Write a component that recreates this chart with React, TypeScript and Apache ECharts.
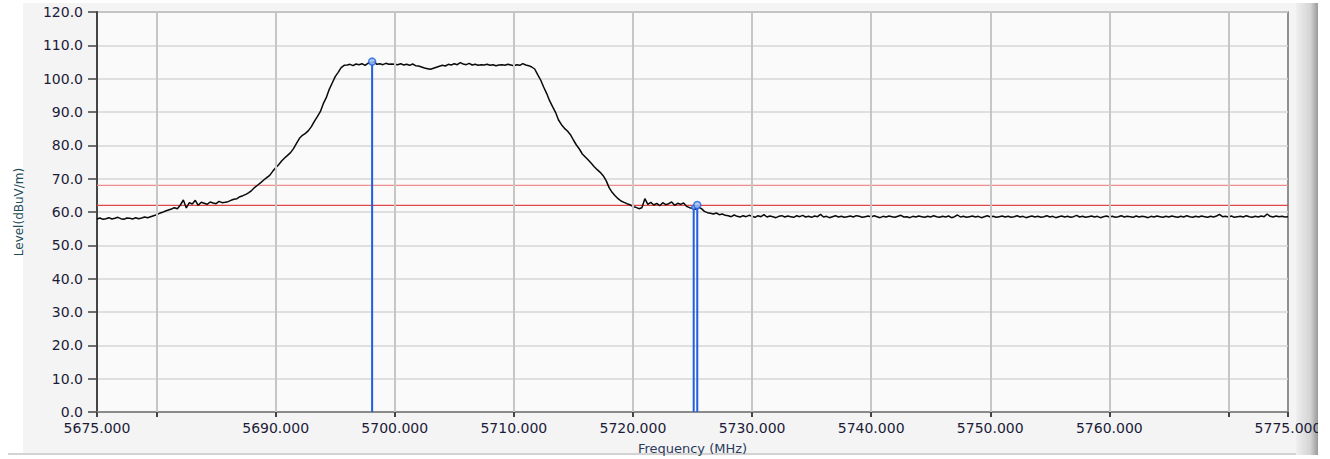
import React, { useEffect, useRef } from "react";
import * as echarts from "echarts";

// ---- data ----
const freqStart = 5675; // MHz, first sample
const freqStep = 0.25; // MHz between samples
const levels = [
  // 5675 - 5679.75
  57.9, 58.2, 57.8, 58.0, 58.3, 57.9, 58.1, 58.4, 58.0, 57.8, 58.2, 58.1, 57.9, 58.3, 58.0, 58.2, 58.5, 58.3, 58.6, 58.9,
  // 5680 - 5681.75
  59.2, 59.6, 59.9, 60.3, 60.6, 60.9, 61.3, 61.0,
  // 5682 - 5685.75
  62.1, 63.6, 61.2, 62.8, 62.4, 63.5, 62.0, 62.9, 62.6, 62.3, 63.0, 62.7, 62.5, 63.2, 62.8, 62.9,
  // 5686 - 5689.75
  63.1, 63.5, 63.8, 64.0, 64.6, 64.9, 65.3, 65.8, 66.5, 67.4, 68.1, 68.8, 69.6, 70.3, 71.0, 72.2,
  // 5690 - 5695.75
  73.3, 74.2, 75.3, 76.2, 77.0, 77.8, 79.0, 80.6, 82.1, 83.0, 83.6, 84.4,
  85.6, 87.2, 88.6, 90.1, 92.5, 94.3, 96.8, 98.7, 100.6, 101.9, 103.3, 104.0,
  // 5696 - 5711.75
  104.1, 104.3, 103.9, 104.4,
  104.2, 104.5, 104.0, 104.6,
  104.8, 105.1, 104.3, 104.5,
  104.2, 104.6, 104.3, 104.4,
  104.3, 104.2, 104.5, 104.1,
  104.3, 104.0, 104.4, 103.9,
  103.8, 103.5, 103.2, 103.0,
  102.8, 103.1, 103.4, 103.7,
  104.0, 103.8, 104.3, 104.1,
  104.5, 104.2, 104.8, 104.4,
  104.2, 104.6, 104.1, 104.3,
  104.0, 104.2, 104.1, 104.3,
  104.0, 104.2, 103.9, 104.1,
  104.2, 104.0, 104.3, 104.1,
  103.9, 104.2, 104.0, 104.5,
  104.1, 103.9, 103.5, 102.9,
  // 5712 - 5720.75
  101.2, 99.6, 97.5, 95.6,
  93.4, 91.6, 89.9, 87.6,
  86.2, 85.1, 84.3, 83.2,
  81.6, 80.1, 78.9, 77.4,
  76.5, 75.6, 74.6, 73.6,
  72.7, 71.9, 70.9, 69.4,
  67.3, 65.9, 64.9, 64.0,
  63.3, 62.9, 62.5, 62.2,
  61.6, 61.4, 61.0, 61.3,
  // 5721 - 5724.75
  64.0, 62.3, 62.9, 62.1,
  62.6, 61.9, 62.8, 62.2,
  62.5, 63.0, 62.0, 62.6,
  62.3, 62.7, 61.7, 61.3,
  // 5725 - 5727.75
  61.1, 60.8, 61.5, 61.0,
  60.2, 59.8, 59.6, 59.4,
  59.7, 59.2, 59.4, 59.0,
  // 5728 - 5775
  58.9, 58.6, 59.1, 58.7,
  58.5, 58.9, 58.6, 59.0,
  58.7, 58.4, 58.9, 58.6,
  59.2, 58.5, 58.8, 58.6,
  58.3, 58.7, 58.9, 58.5,
  58.8, 58.6, 58.4, 58.9,
  58.6, 59.0, 58.5, 58.7,
  58.4, 58.8, 58.6, 59.3,
  58.5, 58.7, 58.3, 58.6,
  58.9, 58.5, 58.7, 58.4,
  58.6, 58.8, 58.5, 58.9,
  58.7, 58.4, 58.6, 58.8,
  58.5, 58.9, 58.6, 58.3,
  58.7, 58.5, 58.8, 58.6,
  58.4, 58.7, 59.0, 58.5,
  58.6, 58.3, 58.7, 58.5,
  58.8, 58.6, 58.4, 58.7,
  58.5, 58.9, 58.6, 58.4,
  58.7, 58.5, 58.8, 58.3,
  58.6, 59.1, 58.5, 58.7,
  58.4, 58.6, 58.8, 58.5,
  58.7, 58.3, 58.6, 58.9,
  58.5, 58.7, 58.4, 58.6,
  58.8, 58.5, 58.7, 58.4,
  58.6, 58.9, 58.5, 58.7,
  58.3, 58.6, 58.8, 58.5,
  58.7, 58.4, 58.6, 58.9,
  58.5, 58.7, 58.3, 58.6,
  58.8, 58.5, 58.7, 58.4,
  58.6, 59.0, 58.5, 58.7,
  58.4, 58.6, 58.8, 58.5,
  58.7, 58.3, 58.6, 58.8,
  58.5, 58.7, 58.4, 58.6,
  58.9, 58.5, 58.7, 58.6,
  58.4, 58.8, 58.5, 58.7,
  58.6, 58.3, 58.7, 58.5,
  58.8, 58.6, 58.4, 58.7,
  58.5, 58.8, 58.6, 58.4,
  58.7, 58.5, 58.9, 58.6,
  58.4, 58.7, 58.5, 58.8,
  58.6, 58.4, 58.7, 58.5,
  58.8, 59.3, 58.6, 58.7,
  58.5, 58.8, 58.4, 58.6,
  58.7, 58.5, 58.9, 58.6,
  58.4, 58.7, 58.5, 58.8,
  58.6, 59.4, 58.7, 58.5,
  58.8, 58.6, 58.7, 58.5,
  58.6,
];
const limitLines = [68.0, 62.0];
const limitColors = ["#f08c8c", "#e04848"];
const markerFreqs = [5698.1, 5725.1, 5725.4];
const markerLevels = [105.1, 61.4, 62.1];
const gridFreqs = [5680, 5690, 5700, 5710, 5720, 5730, 5740, 5750, 5760, 5770];
const xTickFreqs = [5675, 5680, 5690, 5700, 5710, 5720, 5730, 5740, 5750, 5760, 5770, 5775];
const xLabelFreqs = [5675, 5690, 5700, 5710, 5720, 5730, 5740, 5750, 5760, 5775];
const xMin = 5675;
const xMax = 5775;
const yMin = 0;
const yMax = 120;
const yStep = 10;

const FONT = "'DejaVu Sans', Verdana, sans-serif";

export default function App() {
  const ref = useRef<HTMLDivElement>(null);

  useEffect(() => {
    if (!ref.current) return;
    const chart = echarts.init(ref.current, undefined, { renderer: "svg" });

    const trace = levels.map((v, i) => [freqStart + i * freqStep, v]);

    const limitSeries = limitLines.map((v, i) => ({
      type: "line",
      data: [
        [xMin, v],
        [xMax, v],
      ],
      showSymbol: false,
      silent: true,
      z: 2,
      lineStyle: { color: limitColors[i], width: 1.2 },
    }));

    const markerLineSeries = markerFreqs.map((f, i) => ({
      type: "line",
      data: [
        [f, 0],
        [f, markerLevels[i]],
      ],
      showSymbol: false,
      silent: true,
      z: 4,
      lineStyle: { color: "#1f5fe0", width: 2 },
    }));

    chart.setOption({
      animation: false,
      backgroundColor: "#ffffff",
      graphic: [
        {
          type: "rect",
          z: -5,
          shape: { x: 23, y: 3, width: 1275, height: 450 },
          style: { fill: "#f4f4f4" },
          silent: true,
        },
        {
          type: "line",
          z: -5,
          shape: { x1: 8, y1: 454, x2: 1300, y2: 454 },
          style: { stroke: "#c4c4c4", lineWidth: 1.5 },
          silent: true,
        },
        {
          type: "rect",
          z: -4,
          shape: { x: 1296, y: 3, width: 24, height: 452 },
          style: {
            fill: new echarts.graphic.LinearGradient(0, 0, 1, 0, [
              { offset: 0, color: "#efefef" },
              { offset: 0.6, color: "#d4d4d4" },
              { offset: 1, color: "#8a8a8a" },
            ]),
          },
          silent: true,
        },
        {
          type: "rect",
          z: 100,
          shape: { x: 1318, y: 0, width: 12, height: 459 },
          style: { fill: "#ffffff" },
          silent: true,
        },
      ],
      grid: {
        left: 97,
        right: 42,
        top: 12,
        bottom: 47,
        show: true,
        backgroundColor: "#fafafa",
        borderColor: "#6e6e6e",
        borderWidth: 1.5,
        containLabel: false,
        outerBoundsMode: "none",
      },
      xAxis: {
        type: "value",
        min: xMin,
        max: xMax,
        name: "Frequency (MHz)",
        nameLocation: "middle",
        nameGap: 30,
        nameTextStyle: { color: "#2c3b5c", fontSize: 13, fontFamily: FONT },
        axisLine: { show: true, onZero: false, lineStyle: { color: "#8a8a8a", width: 2 } },
        axisTick: {
          show: true,
          length: 5,
          customValues: xTickFreqs,
          lineStyle: { color: "#444", width: 2 },
        },
        axisLabel: {
          show: true,
          customValues: xLabelFreqs,
          margin: 9,
          color: "#1c1c3a",
          fontSize: 14,
          fontFamily: FONT,
          formatter: (v: number) => v.toFixed(3),
          showMinLabel: true,
          showMaxLabel: true,
        },
        splitLine: { show: false },
      },
      yAxis: {
        type: "value",
        min: yMin,
        max: yMax,
        interval: yStep,
        name: "Level(dBuV/m)",
        nameLocation: "middle",
        nameGap: 72,
        nameTextStyle: { color: "#1f4e5a", fontSize: 12, fontFamily: FONT },
        axisLine: { show: true, lineStyle: { color: "#444", width: 2 } },
        axisTick: { show: true, length: 9, lineStyle: { color: "#444", width: 1.5 } },
        axisLabel: {
          margin: 14,
          color: "#1c1c3a",
          fontSize: 14,
          fontFamily: FONT,
          formatter: (v: number) => v.toFixed(1),
        },
        splitLine: { show: true, lineStyle: { color: "#d6d6d6", width: 1.5 } },
      },
      series: [
        {
          type: "line",
          data: [],
          silent: true,
          z: 1,
          markLine: {
            silent: true,
            symbol: "none",
            label: { show: false },
            animation: false,
            lineStyle: { color: "#c6c6c6", width: 2, type: "solid" },
            data: gridFreqs.map((f) => ({ xAxis: f })),
          },
        },
        ...limitSeries,
        {
          type: "line",
          data: trace,
          showSymbol: false,
          silent: true,
          z: 3,
          lineStyle: { color: "#0a0a0a", width: 1.5 },
        },
        ...markerLineSeries,
        {
          type: "scatter",
          data: markerFreqs.map((f, i) => [f, markerLevels[i]]),
          silent: true,
          z: 5,
          symbol: "circle",
          symbolSize: (val: number[], p: any) => (p.dataIndex === 1 ? 4 : 7),
          itemStyle: { color: "#9cc0f4", borderColor: "#1f5fe0", borderWidth: 1.5 },
        },
      ],
    });

    return () => chart.dispose();
  }, []);

  return (
    <div
      ref={ref}
      style={{ position: "fixed", left: 0, top: 0, width: 1330, height: 459 }}
    />
  );
}
